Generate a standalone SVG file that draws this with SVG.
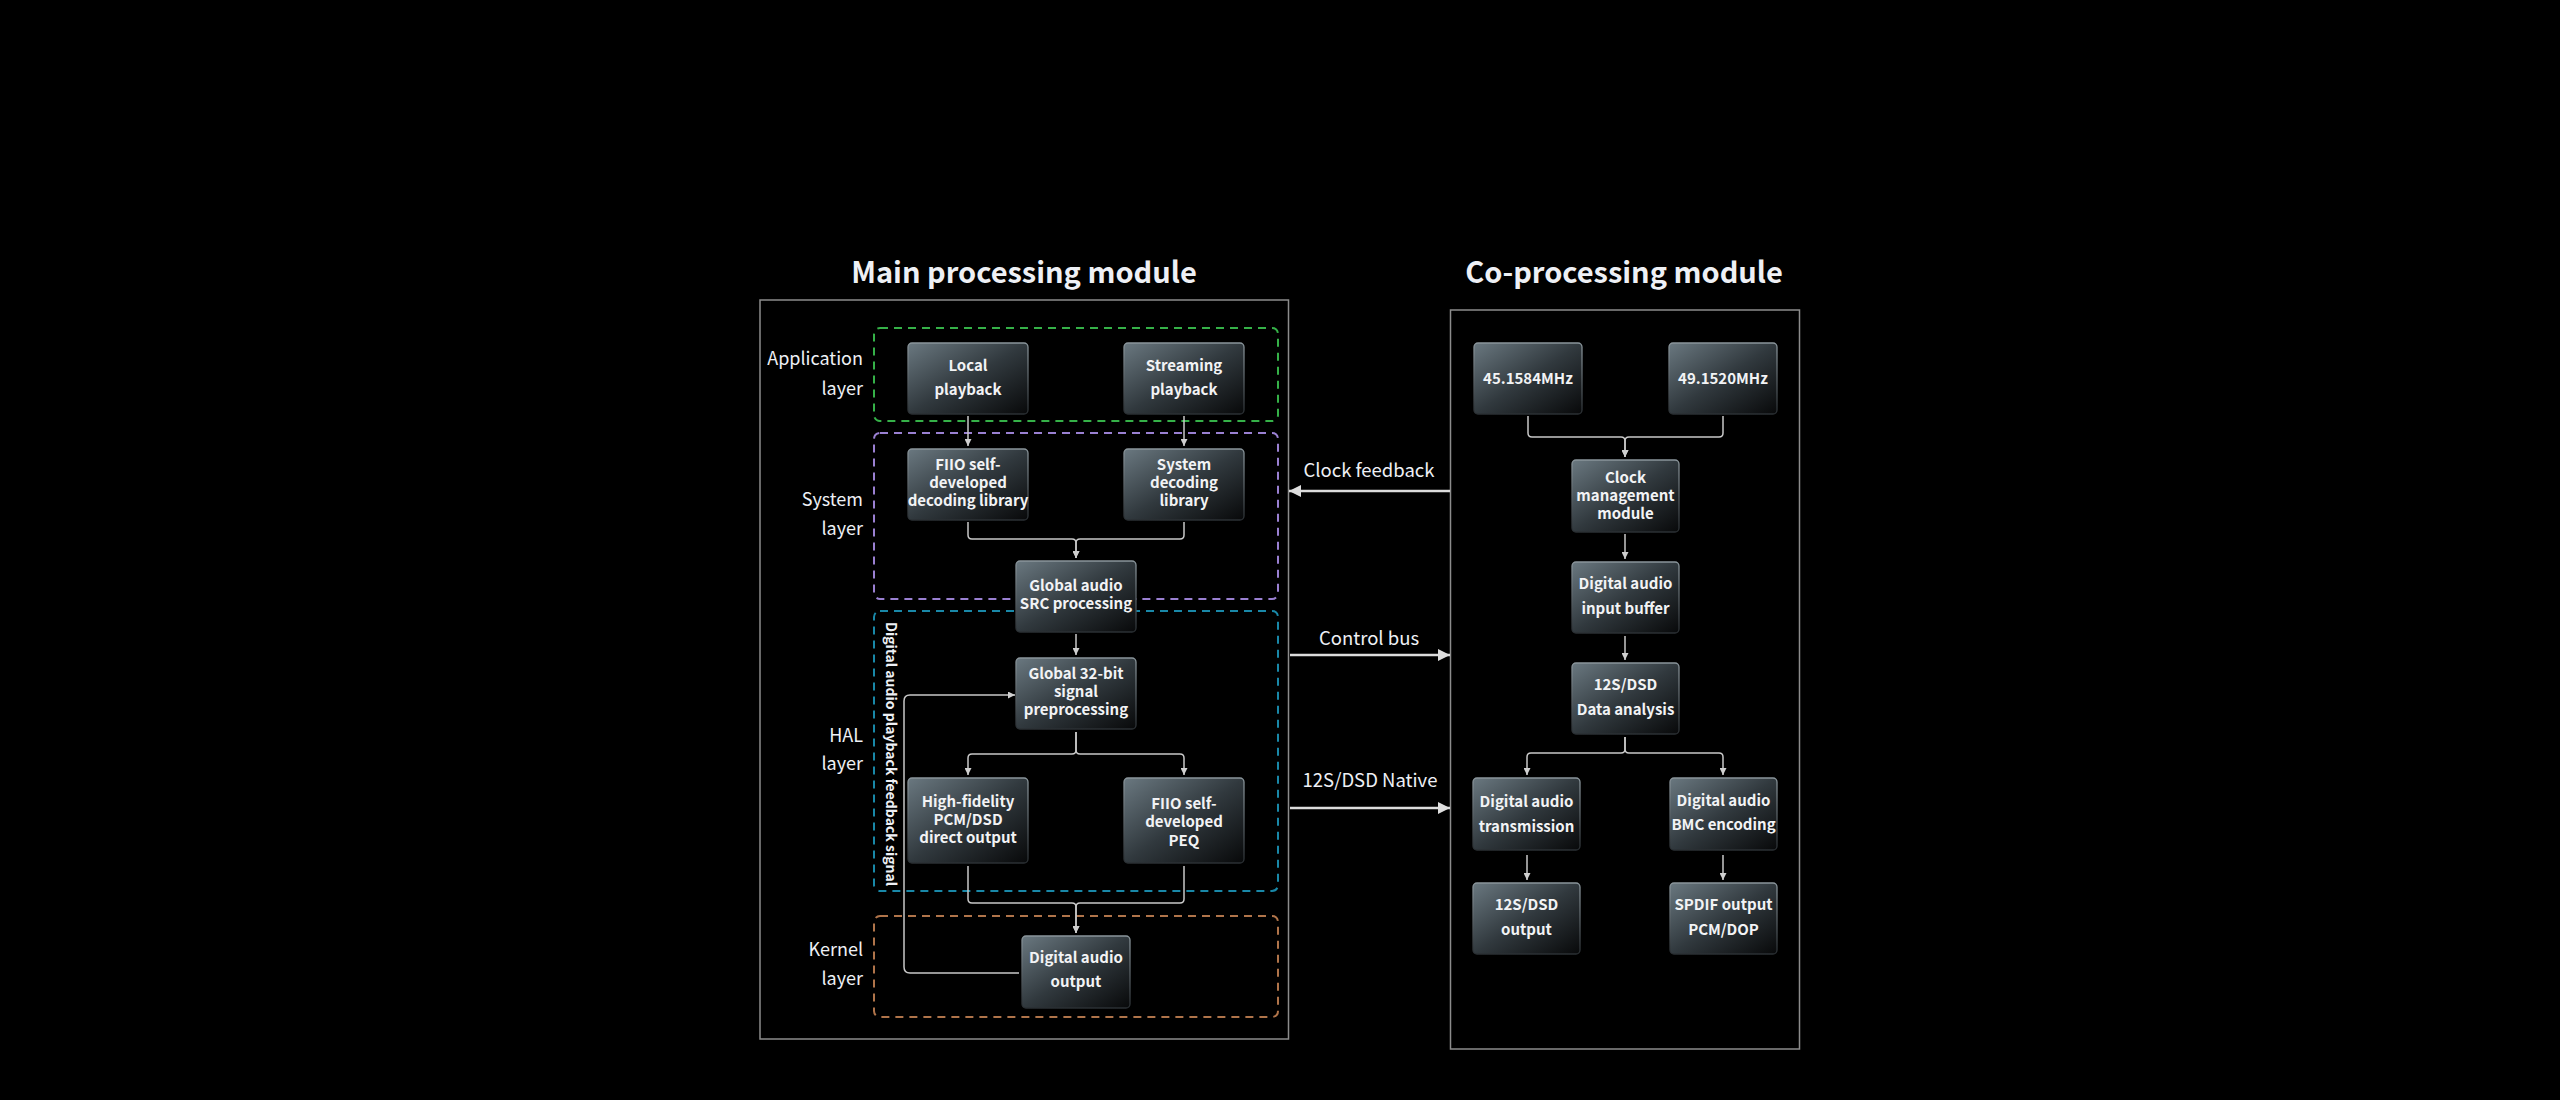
<svg xmlns="http://www.w3.org/2000/svg" width="2560" height="1100" viewBox="0 0 2560 1100">
<defs>
<linearGradient id="ng" x1="0" y1="0" x2="1" y2="1">
<stop offset="0" stop-color="#6a7880"/>
<stop offset="0.5" stop-color="#31393e"/>
<stop offset="1" stop-color="#08090a"/>
</linearGradient>
<linearGradient id="nb" x1="0" y1="0" x2="0" y2="1">
<stop offset="0" stop-color="#8a959b"/>
<stop offset="1" stop-color="#2a2f33"/>
</linearGradient>
<marker id="a" viewBox="0 0 10 10" refX="10" refY="5" markerWidth="7" markerHeight="7" markerUnits="userSpaceOnUse" orient="auto">
<path d="M0,0 L10,5 L0,10 z" fill="#cfcfcf"/>
</marker>
<marker id="A" viewBox="0 0 10 10" refX="10" refY="5" markerWidth="12" markerHeight="12" markerUnits="userSpaceOnUse" orient="auto">
<path d="M0,0 L10,5 L0,10 z" fill="#dedede"/>
</marker>
</defs>
<style>
text{font-family:"Noto Sans CJK SC","Source Sans Pro",Lato,sans-serif;fill:#eef0f5}
.title{font-size:29px;font-weight:700;text-anchor:middle}
.lay{font-size:18px;text-anchor:end}
.lbl{font-size:18.5px;text-anchor:middle}
.nt{font-size:15px;font-weight:700;text-anchor:middle;fill:#f2f3f5}
.vt{font-size:14px;font-weight:700}
.node{fill:url(#ng);stroke:url(#nb);stroke-width:1.3}
.mod{fill:none;stroke:#8c8c8c;stroke-width:1.5}
.dash{fill:none;stroke-width:2;stroke-dasharray:8 6}
.c{fill:none;stroke:#c8c8c8;stroke-width:1.5}
.big{fill:none;stroke:#dcdcdc;stroke-width:2.5}
</style>
<rect width="2560" height="1100" fill="#000"/>

<g id="main-module">
<text class="title" x="1024" y="283">Main processing module</text>
<rect class="mod" x="760" y="300" width="528.5" height="739"/>
</g>
<g id="co-module">
<text class="title" x="1624" y="283">Co-processing module</text>
<rect class="mod" x="1450.5" y="310" width="349" height="739"/>
</g>

<g id="layers">
<rect class="dash" x="874" y="328" width="404" height="93" rx="6" stroke="#35b148"/>
<rect class="dash" x="874" y="433" width="404" height="166" rx="6" stroke="#9a80d2"/>
<rect class="dash" x="874" y="611" width="404" height="280" rx="6" stroke="#1988a8"/>
<rect class="dash" x="874" y="916" width="404" height="101" rx="6" stroke="#b0744a"/>
<text class="lay" x="863" y="365">Application</text>
<text class="lay" x="863" y="395">layer</text>
<text class="lay" x="863" y="506">System</text>
<text class="lay" x="863" y="535">layer</text>
<text class="lay" x="863" y="742">HAL</text>
<text class="lay" x="863" y="770">layer</text>
<text class="lay" x="863" y="956">Kernel</text>
<text class="lay" x="863" y="985">layer</text>
<text class="vt" transform="translate(886,622) rotate(90)">Digital audio playback feedback signal</text>
</g>

<g id="connectors">
<path class="c" marker-end="url(#a)" d="M968,416 V446"/>
<path class="c" marker-end="url(#a)" d="M1184,416 V446"/>
<path class="c" marker-end="url(#a)" d="M968,522 V535 Q968,539 972,539 H1072 Q1076,539 1076,543 V558"/>
<path class="c" marker-end="url(#a)" d="M1184,522 V535 Q1184,539 1180,539 H1080 Q1076,539 1076,543 V558"/>
<path class="c" marker-end="url(#a)" d="M1076,634 V655"/>
<path class="c" marker-end="url(#a)" d="M1076,732 V750 Q1076,754 1072,754 H972 Q968,754 968,758 V775"/>
<path class="c" marker-end="url(#a)" d="M1076,732 V750 Q1076,754 1080,754 H1180 Q1184,754 1184,758 V775"/>
<path class="c" marker-end="url(#a)" d="M968,866 V899 Q968,903 972,903 H1072 Q1076,903 1076,907 V933"/>
<path class="c" marker-end="url(#a)" d="M1184,866 V899 Q1184,903 1180,903 H1080 Q1076,903 1076,907 V933"/>
<path class="c" marker-end="url(#a)" d="M1019,973 H910 Q904,973 904,967 V701 Q904,695 910,695 H1015"/>
<path class="c" marker-end="url(#a)" d="M1528,416 V433 Q1528,437 1532,437 H1621 Q1625,437 1625,441 V457"/>
<path class="c" marker-end="url(#a)" d="M1723,416 V433 Q1723,437 1719,437 H1629 Q1625,437 1625,441 V457"/>
<path class="c" marker-end="url(#a)" d="M1625,534 V559"/>
<path class="c" marker-end="url(#a)" d="M1625,636 V660"/>
<path class="c" marker-end="url(#a)" d="M1625,737 V749 Q1625,753 1621,753 H1531 Q1527,753 1527,757 V775"/>
<path class="c" marker-end="url(#a)" d="M1625,737 V749 Q1625,753 1629,753 H1719 Q1723,753 1723,757 V775"/>
<path class="c" marker-end="url(#a)" d="M1527,855 V880"/>
<path class="c" marker-end="url(#a)" d="M1723,855 V880"/>
<path class="big" marker-end="url(#A)" d="M1450,491 H1289"/>
<path class="big" marker-end="url(#A)" d="M1290,655 H1450"/>
<path class="big" marker-end="url(#A)" d="M1290,808 H1450"/>
<text class="lbl" x="1369" y="477">Clock feedback</text>
<text class="lbl" x="1369" y="645">Control bus</text>
<text class="lbl" x="1370" y="787">12S/DSD Native</text>
</g>

<g id="n-local"><rect class="node" x="908" y="343" width="120" height="71" rx="4"/>
<text class="nt" x="968" y="371">Local</text><text class="nt" x="968" y="395">playback</text></g>
<g id="n-streaming"><rect class="node" x="1124" y="343" width="120" height="71" rx="4"/>
<text class="nt" x="1184" y="371">Streaming</text><text class="nt" x="1184" y="395">playback</text></g>
<g id="n-fiio-lib"><rect class="node" x="908" y="449" width="120" height="71" rx="4"/>
<text class="nt" x="968" y="470">FIIO self-</text><text class="nt" x="968" y="488">developed</text><text class="nt" x="968" y="506">decoding library</text></g>
<g id="n-sys-lib"><rect class="node" x="1124" y="449" width="120" height="71" rx="4"/>
<text class="nt" x="1184" y="470">System</text><text class="nt" x="1184" y="488">decoding</text><text class="nt" x="1184" y="506">library</text></g>
<g id="n-src"><rect class="node" x="1016" y="561" width="120" height="71" rx="4"/>
<text class="nt" x="1076" y="591">Global audio</text><text class="nt" x="1076" y="609">SRC processing</text></g>
<g id="n-32bit"><rect class="node" x="1016" y="658" width="120" height="71" rx="4"/>
<text class="nt" x="1076" y="679">Global 32-bit</text><text class="nt" x="1076" y="697">signal</text><text class="nt" x="1076" y="715">preprocessing</text></g>
<g id="n-hifi"><rect class="node" x="908" y="778" width="120" height="85" rx="4"/>
<text class="nt" x="968" y="807">High-fidelity</text><text class="nt" x="968" y="825">PCM/DSD</text><text class="nt" x="968" y="843">direct output</text></g>
<g id="n-peq"><rect class="node" x="1124" y="778" width="120" height="85" rx="4"/>
<text class="nt" x="1184" y="809">FIIO self-</text><text class="nt" x="1184" y="827">developed</text><text class="nt" x="1184" y="846">PEQ</text></g>
<g id="n-dao"><rect class="node" x="1022" y="936" width="108" height="72" rx="4"/>
<text class="nt" x="1076" y="963">Digital audio</text><text class="nt" x="1076" y="987">output</text></g>

<g id="n-45"><rect class="node" x="1474" y="343" width="108" height="71" rx="4"/>
<text class="nt" x="1528" y="384">45.1584MHz</text></g>
<g id="n-49"><rect class="node" x="1669" y="343" width="108" height="71" rx="4"/>
<text class="nt" x="1723" y="384">49.1520MHz</text></g>
<g id="n-clock"><rect class="node" x="1572" y="460" width="107" height="72" rx="4"/>
<text class="nt" x="1625.5" y="483">Clock</text><text class="nt" x="1625.5" y="501">management</text><text class="nt" x="1625.5" y="519">module</text></g>
<g id="n-buffer"><rect class="node" x="1572" y="562" width="107" height="71" rx="4"/>
<text class="nt" x="1625.5" y="589">Digital audio</text><text class="nt" x="1625.5" y="614">input buffer</text></g>
<g id="n-analysis"><rect class="node" x="1572" y="663" width="107" height="71" rx="4"/>
<text class="nt" x="1625.5" y="690">12S/DSD</text><text class="nt" x="1625.5" y="715">Data analysis</text></g>
<g id="n-trans"><rect class="node" x="1473" y="778" width="107" height="72" rx="4"/>
<text class="nt" x="1526.5" y="807">Digital audio</text><text class="nt" x="1526.5" y="832">transmission</text></g>
<g id="n-bmc"><rect class="node" x="1670" y="778" width="107" height="72" rx="4"/>
<text class="nt" x="1723.5" y="806">Digital audio</text><text class="nt" x="1723.5" y="830">BMC encoding</text></g>
<g id="n-i2s-out"><rect class="node" x="1473" y="883" width="107" height="71" rx="4"/>
<text class="nt" x="1526.5" y="910">12S/DSD</text><text class="nt" x="1526.5" y="935">output</text></g>
<g id="n-spdif"><rect class="node" x="1670" y="883" width="107" height="71" rx="4"/>
<text class="nt" x="1723.5" y="910">SPDIF output</text><text class="nt" x="1723.5" y="935">PCM/DOP</text></g>
</svg>
